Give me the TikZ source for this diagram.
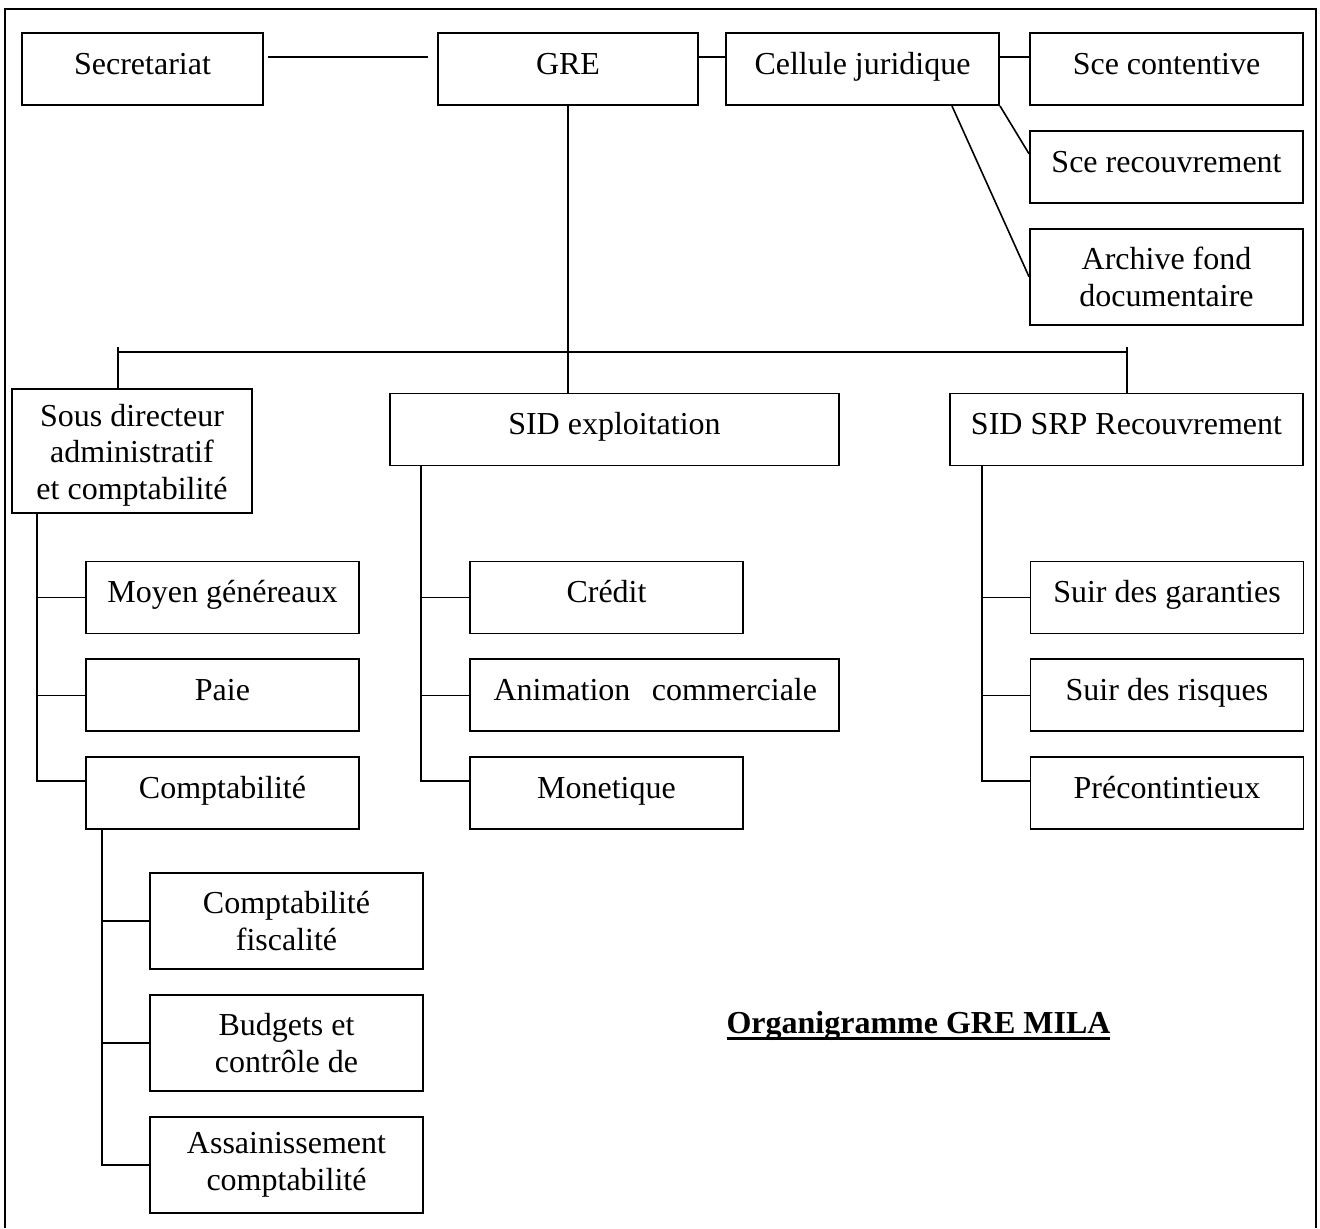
\documentclass[tikz,border=0pt]{standalone}
\usepackage{fontspec}
\setmainfont{Liberation Serif}
\usetikzlibrary{positioning}
\newsavebox{\soulbox}
\newcommand{\souligne}[1]{\sbox{\soulbox}{#1}\rlap{\rule[-2.6pt]{\wd\soulbox}{1.1pt}}\usebox{\soulbox}}

\begin{document}
\begin{tikzpicture}[
        x=0.375pt, y=-0.375pt,
        node distance=9pt,
        font=\fontsize{12}{13.8}\selectfont,
        poste/.style={
            rectangle,
            draw,
            line width=0.7pt,
            align=center,
            minimum width=102.4pt,
            minimum height=27pt,
            inner sep=2pt,
            text height=7.6pt,
            text depth=3.6pt
        },
        haut/.style={minimum height=36pt, text height=, text depth=},
        lien/.style={line width=0.6pt},
        cadre/.style={line width=0.8pt}
    ]

    \useasboundingbox (0,0) rectangle (1320,1228);
    \draw[cadre] (5,1228) |- (1316,9) -- (1316,1228);

    % Direction
    \node[poste, minimum width=90.4pt] (secr) at (142.5,69) {Secretariat};
    \node[poste, minimum width=97.5pt] (gre) at (568,69) {GRE};
    \node[poste] (cell) at (862.5,69) {Cellule juridique};

    % Cellule juridique
    \node[poste] (sce1) at (1166.5,69) {Sce contentive};
    \node[poste, below=of sce1] (sce2) {Sce recouvrement};
    \node[poste, haut, below=of sce2] (archive) {Archive fond\\documentaire};

    % Sous-directions
    \node[poste, minimum width=90pt, minimum height=46.5pt, text height=39.5pt, text depth=3pt] (sousdir) at (132,451) {Sous directeur\\administratif\\et comptabilité};
    \node[poste, minimum width=168.4pt] (sidex) at (614.5,429.5) {SID exploitation};
    \node[poste, minimum width=132.4pt] (sidsrp) at (1126.5,429.5) {SID SRP Recouvrement};

    % Services administratifs
    \node[poste] (moyen) at (222.5,597.5) {Moyen généreaux};
    \node[poste, below=of moyen] (paie) {Paie};
    \node[poste, below=of paie] (compta) {Comptabilité};

    % Comptabilite
    \node[poste, haut] (cfisc) at (286.5,921) {Comptabilité\\fiscalité};
    \node[poste, haut, below=of cfisc] (budg) {Budgets et\\contrôle de};
    \node[poste, haut, below=of budg] (assain) {Assainissement\\comptabilité};

    % Exploitation
    \node[poste] (credit) at (606.5,597.5) {Crédit};
    \node[poste, below=of credit.south west, anchor=north west, minimum width=138.4pt, text width=121.9pt, inner xsep=8.25pt, align=right] (anim) {Animation~~commerciale};
    \node[poste, below=of anim.south west, anchor=north west] (monet) {Monetique};

    % Recouvrement
    \node[poste] (suir1) at (1167,597.5) {Suir des garanties};
    \node[poste, below=of suir1] (suir2) {Suir des risques};
    \node[poste, below=of suir2] (precont) {Précontintieux};

    % Liaisons du haut
    \draw[lien] ([shift={(1.5pt,4.5pt)}]secr.east) -- ([shift={(-3.4pt,4.5pt)}]gre.west);
    \draw[lien] ([yshift=4.5pt]gre.east) -- ([yshift=4.5pt]cell.west);
    \draw[lien] ([yshift=4.5pt]cell.east) -- ([yshift=4.5pt]sce1.west);
    \draw[lien] (cell.south east) -- ([yshift=4.9pt]sce2.west);
    \draw[lien] ([xshift=-18pt]cell.south east) -- (archive.west);

    % Barre des sous-directions
    \coordinate (barG) at (118,352);
    \coordinate (barD) at (1127,352);
    \coordinate (tickG) at (118,347);
    \coordinate (tickD) at (1127,347);
    \draw[lien] (gre.south) -- (gre.south |- sidex.north);
    \draw[lien] (barG) -- (barD);
    \draw[lien] (tickG) -- (tickG |- sousdir.north);
    \draw[lien] (tickD) -- (tickD |- sidsrp.north);

    % Branches
    \coordinate (axeA) at ([xshift=9.75pt]sousdir.south west);
    \draw[lien] (axeA) |- ([yshift=4.5pt]compta.west);
    \foreach \n in {moyen,paie}
        \draw[lien] (axeA |- \n.west) -- (\n.west);

    \coordinate (axeB) at ([xshift=12pt]sidex.south west);
    \draw[lien] (axeB) |- ([yshift=4.5pt]monet.west);
    \foreach \n in {credit,anim}
        \draw[lien] (axeB |- \n.west) -- (\n.west);

    \coordinate (axeC) at ([xshift=12.4pt]sidsrp.south west);
    \draw[lien] (axeC) |- ([yshift=4.5pt]precont.west);
    \foreach \n in {suir1,suir2}
        \draw[lien] (axeC |- \n.west) -- (\n.west);

    \coordinate (axeD) at ([xshift=6.4pt]compta.south west);
    \draw[lien] (axeD) |- (assain.west);
    \foreach \n in {cfisc,budg}
        \draw[lien] (axeD |- \n.west) -- (\n.west);

    % Titre
    \node[anchor=base, font=\fontsize{12}{13.8}\selectfont\bfseries] (titre) at (918.5,1033) {\souligne{Organigramme GRE MILA}};

\end{tikzpicture}
\end{document}
